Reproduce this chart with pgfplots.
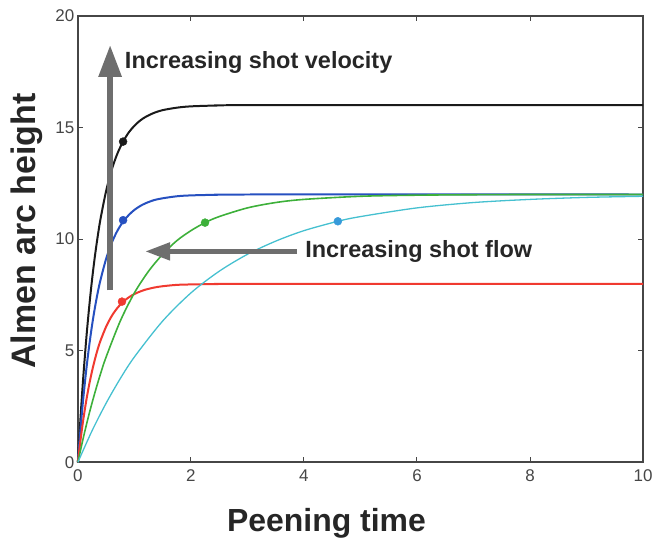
\documentclass[border=0pt]{standalone}
\usepackage{fontspec}
\setmainfont{Liberation Sans}
\usepackage{pgfplots}
\pgfplotsset{compat=1.18}
\usetikzlibrary{arrows.meta}

\definecolor{axisgray}{HTML}{464646}
\definecolor{arrowgray}{HTML}{6E6E6E}
\definecolor{cblack}{HTML}{1A1A1A}
\definecolor{cblue}{HTML}{2650C0}
\definecolor{cgreen}{HTML}{3DB03A}
\definecolor{ccyan}{HTML}{45C0D0}
\definecolor{cred}{HTML}{F03A30}

\begin{document}
\begin{tikzpicture}
\begin{axis}[
  name=ax,
  scale only axis,
  width=566pt, height=447pt,
  xmin=0, xmax=10, ymin=0, ymax=20,
  xtick={0,2,...,10}, ytick={0,5,...,20},
  tick align=inside,
  major tick length=5pt,
  tick style={axisgray, line width=1pt},
  axis line style={axisgray, line width=2pt},
  ticklabel style={font=\fontsize{17}{17}\selectfont, text=axisgray},
  xticklabel style={yshift=-4pt},
  /pgf/number format/assume math mode=true,
  xlabel={\bfseries Peening time},
  ylabel={\bfseries Almen arc height},
  xlabel style={font=\fontsize{32}{32}\selectfont, text=black!85, yshift=-20pt, xshift=-34pt},
  ylabel style={font=\fontsize{34}{34}\selectfont, text=black!85, yshift=6pt, xshift=8pt},
  clip=false,
]
% black, 16
\addplot[cblack, line width=2pt, smooth] coordinates {
 (0,0) (0.025,1.10) (0.05,2.13) (0.075,3.09) (0.1,3.98) (0.15,5.58) (0.2,6.96)
 (0.25,8.17) (0.3,9.21) (0.35,10.11) (0.4,10.90) (0.5,12.16) (0.6,13.12)
 (0.7,13.84) (0.8,14.37) (0.9,14.78) (1.0,15.08) (1.1,15.31) (1.2,15.48)
 (1.35,15.66) (1.5,15.78) (1.75,15.89) (2.0,15.95) (2.5,15.99) (3,16) (10,16)};
% blue, 12
\addplot[cblue, line width=2pt, smooth] coordinates {
 (0,0) (0.025,0.83) (0.05,1.60) (0.075,2.31) (0.1,2.98) (0.15,4.18) (0.2,5.22)
 (0.25,6.13) (0.3,6.91) (0.35,7.59) (0.4,8.17) (0.5,9.12) (0.6,9.84)
 (0.7,10.38) (0.8,10.78) (0.9,11.08) (1.0,11.31) (1.1,11.48) (1.2,11.61)
 (1.35,11.75) (1.5,11.83) (1.75,11.92) (2.0,11.96) (2.5,11.99) (3,12) (10,12)};
% red, 8
\addplot[cred, line width=2pt, smooth] coordinates {
 (0,0) (0.025,0.55) (0.05,1.06) (0.075,1.54) (0.1,1.99) (0.15,2.79) (0.2,3.48)
 (0.25,4.08) (0.3,4.60) (0.35,5.06) (0.4,5.45) (0.5,6.08) (0.6,6.56)
 (0.7,6.92) (0.8,7.19) (0.9,7.39) (1.0,7.54) (1.1,7.65) (1.2,7.74)
 (1.35,7.83) (1.5,7.89) (1.75,7.95) (2.0,7.97) (2.5,7.99) (3,8) (10,8)};
% green, 12
\addplot[cgreen, line width=1.6pt, smooth] coordinates {
 (0,0) (0.1,1.14) (0.2,2.18) (0.3,3.11) (0.4,3.96) (0.5,4.72) (0.75,6.33) (1,7.59)
 (1.25,8.56) (1.5,9.32) (1.75,9.93) (2,10.38) (2.25,10.74) (2.5,11.01) (3,11.40)
 (3.5,11.64) (4,11.78) (5,11.92) (6,11.97) (7,11.99) (8,12) (10,12)};
% cyan, 12
\addplot[ccyan, line width=1.3pt, smooth] coordinates {
 (0,0) (0.25,1.41) (0.5,2.65) (0.75,3.75) (1,4.72) (1.5,6.33) (2,7.59)
 (2.5,8.56) (3,9.32) (3.5,9.91) (4,10.38) (4.6,10.80) (5,11.01) (6,11.40)
 (7,11.64) (8,11.78) (9,11.87) (10,11.92)};
% markers
\addplot[only marks, mark=*, mark size=4pt, cblack] coordinates {(0.8,14.37)};
\addplot[only marks, mark=*, mark size=4pt, cblue] coordinates {(0.8,10.85)};
\addplot[only marks, mark=*, mark size=4pt, cred] coordinates {(0.78,7.2)};
\addplot[only marks, mark=*, mark size=4pt, cgreen] coordinates {(2.25,10.74)};
\addplot[only marks, mark=*, mark size=4pt, ccyan!80!blue] coordinates {(4.6,10.80)};
% annotations
\draw[arrowgray, line width=6pt, -{Triangle[length=32pt,width=22pt]}]
  (axis cs:0.57,7.7) -- (axis cs:0.57,18.7);
\draw[arrowgray, line width=5pt, -{Triangle[length=25pt,width=17pt]}]
  (axis cs:3.88,9.45) -- (axis cs:1.19,9.45);
\node[anchor=west, inner sep=0pt, text=black!85, font=\fontsize{23.5}{24}\selectfont\bfseries]
  at (axis cs:0.83,17.9) {Increasing shot velocity};
\node[anchor=west, inner sep=0pt, text=black!85, font=\fontsize{23.5}{24}\selectfont\bfseries]
  at (axis cs:4.02,9.45) {Increasing shot flow};
\end{axis}
\pgfresetboundingbox
\path[use as bounding box] ([xshift=-78pt,yshift=-89pt]ax.south west) rectangle ([xshift=21pt,yshift=16pt]ax.north east);
\end{tikzpicture}
\end{document}
